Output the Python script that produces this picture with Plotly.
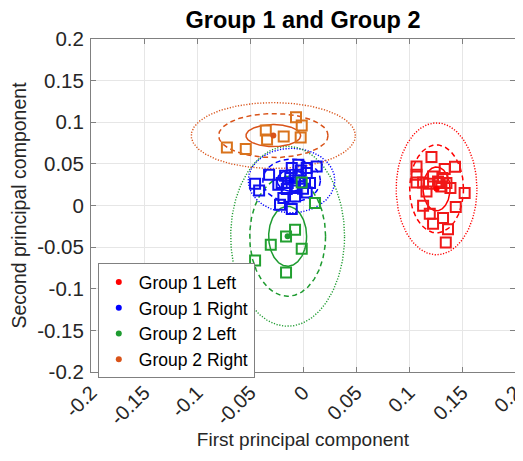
import numpy as np
import plotly.graph_objects as go

# ---------------- data ----------------
group_names = ["Group 1 Left", "Group 1 Right", "Group 2 Left", "Group 2 Right"]
group_colors = ["#FF0000", "#0000FF", "#1E9B30", "#D95319"]
square_colors = ["#F01818", "#1010F0", "#22A030", "#D9731C"]

g1_left_x = [0.1212, 0.1071, 0.1434, 0.1337, 0.1071, 0.1227, 0.1315, 0.1071, 0.1133,
             0.1189, 0.1290, 0.1353, 0.1306, 0.1391, 0.1165, 0.1525, 0.1133, 0.1441,
             0.1196, 0.1321, 0.1227, 0.1368, 0.1347, 0.1274]
g1_left_y = [0.0582, 0.0469, 0.0465, 0.0438, 0.0369, 0.0349, 0.0329, 0.0276, 0.0276,
             0.0261, 0.0269, 0.0269, 0.0228, 0.0209, 0.0168, 0.0149, -0.0004, -0.0019,
             -0.0100, -0.0151, -0.0220, -0.0284, -0.0445, 0.0288]

g1_right_x = [-0.0320, -0.0452, -0.0414, -0.0233, -0.0144, -0.0169, -0.0106, -0.0044,
              0.0129, 0.0035, -0.0044, 0.0019, 0.0066, -0.0075, -0.0153, 0.0035,
              -0.0185, -0.0075, -0.0217, -0.0106, 0.0035, -0.0201, -0.0120, -0.0020,
              -0.0080, 0.0000]
g1_right_y = [0.0369, 0.0261, 0.0180, 0.0249, 0.0269, 0.0357, 0.0450, 0.0489,
              0.0469, 0.0389, 0.0349, 0.0269, 0.0269, 0.0209, 0.0197, 0.0156,
              0.0089, 0.0108, 0.0008, -0.0043, 0.0450, 0.0269, 0.0330, 0.0420,
              0.0300, 0.0200]

g2_left_x = [0.0113, -0.0012, -0.0075, -0.0160, -0.0304, -0.0012, -0.0452, -0.0160]
g2_left_y = [0.0029, 0.0276, -0.0292, -0.0373, -0.0472, -0.0520, -0.0661, -0.0805]

g2_right_x = [-0.0718, -0.0540, -0.0351, -0.0339, -0.0182, -0.0066, -0.0012, -0.0022]
g2_right_y = [0.0697, 0.0680, 0.0900, 0.0793, 0.0830, 0.1060, 0.0960, 0.0817]

# group means and standard deviations (ellipse parameters)
mean_x = [0.1260, -0.0108, -0.0145, -0.0280]
mean_y = [0.0200, 0.0300, -0.0370, 0.0840]
sd_x = [0.0127, 0.0136, 0.0179, 0.0258]
sd_y = [0.0264, 0.0129, 0.0360, 0.0132]
sd_levels = [1, 2, 3]
level_dash = ["solid", "5px,3.5px", "1.2px,1.6px"]

tick_vals = [-0.2, -0.15, -0.1, -0.05, 0, 0.05, 0.1, 0.15, 0.2]
tick_text = ["-0.2", "-0.15", "-0.1", "-0.05", "0", "0.05", "0.1", "0.15", "0.2"]

xs = [g1_left_x, g1_right_x, g2_left_x, g2_right_x]
ys = [g1_left_y, g1_right_y, g2_left_y, g2_right_y]

# ---------------- figure ----------------
FONT = "Liberation Sans, Arial, Helvetica, sans-serif"
fig = go.Figure()

t = np.linspace(0, 2 * np.pi, 240)
for i in range(4):
    for k, dash in zip(sd_levels, level_dash):
        fig.add_trace(go.Scatter(
            x=mean_x[i] + k * sd_x[i] * np.cos(t),
            y=mean_y[i] + k * sd_y[i] * np.sin(t),
            mode="lines",
            line=dict(color=group_colors[i], width=1.5 if k < 3 else 1.4, dash=dash),
            showlegend=False, hoverinfo="skip"))

for i in range(4):
    fig.add_trace(go.Scatter(
        x=xs[i], y=ys[i], mode="markers",
        marker=dict(symbol="square-open", size=10, color=square_colors[i],
                    line=dict(width=2, color=square_colors[i])),
        showlegend=False))

for i in range(4):
    fig.add_trace(go.Scatter(
        x=[mean_x[i]], y=[mean_y[i]], mode="markers",
        marker=dict(symbol="circle", size=6, color=group_colors[i]),
        name=group_names[i], showlegend=True))

EPS = 1e-7
axis_common = dict(
    range=[-0.2 - EPS, 0.2 + EPS], tickvals=tick_vals, ticktext=tick_text,
    showgrid=True, gridcolor="#E6E6E6", gridwidth=1,
    zeroline=False, showline=True, linecolor="#808080", linewidth=1,
    mirror="ticks", ticks="inside", ticklen=5, tickcolor="#808080",
    automargin=False, ticklabeloverflow="allow",
)

# the page body adds an 8px offset, so the figure is 8px smaller than the window
fig.update_layout(
    width=515, height=453,
    margin=dict(l=82.5, r=8, t=31.3, b=89, autoexpand=False),
    paper_bgcolor="white", plot_bgcolor="white",
    title=dict(text="<b>Group 1 and Group 2</b>", xref="paper", x=0.5, xanchor="center",
               yref="container", y=0.9735, yanchor="middle", automargin=False,
               font=dict(family=FONT, size=23.5, color="#000000")),
    xaxis=dict(axis_common, tickangle=-45,
               tickfont=dict(family=FONT, size=20, color="#262626"),
               title=dict(text="First principal component", standoff=4,
                          font=dict(family=FONT, size=19, color="#262626"))),
    yaxis=dict(axis_common, ticklabelstandoff=2,
               tickfont=dict(family=FONT, size=20.5, color="#262626"),
               title=dict(text="Second principal component", standoff=8,
                          font=dict(family=FONT, size=19.5, color="#262626"))),
    legend=dict(x=0.016, y=0.327, xanchor="left", yanchor="top",
                bgcolor="white", bordercolor="#808080", borderwidth=1,
                font=dict(family=FONT, size=17.5, color="#000000"),
                itemwidth=30, tracegroupgap=0),
    showlegend=True,
)

fig.write_html("out.html")
